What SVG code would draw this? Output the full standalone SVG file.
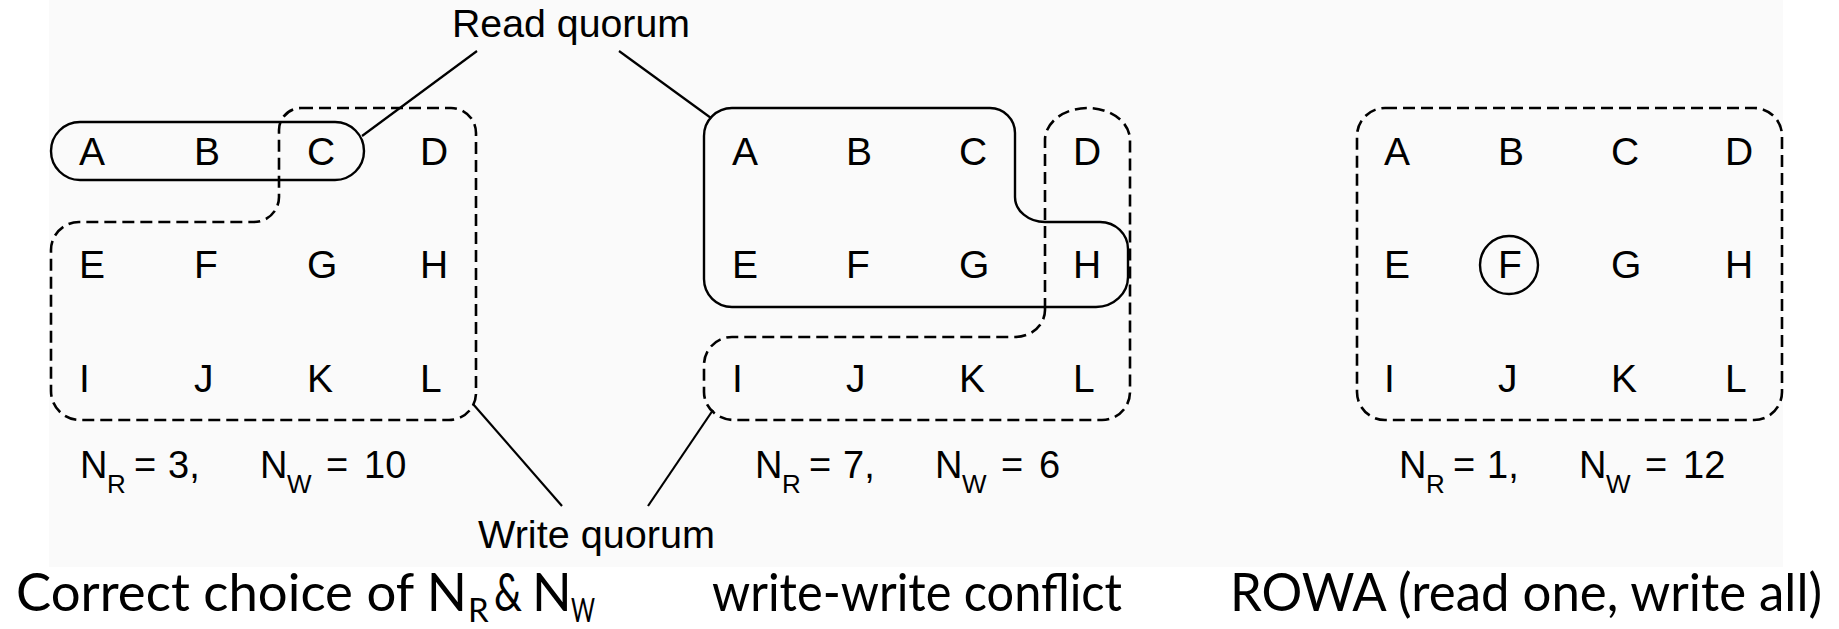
<svg xmlns="http://www.w3.org/2000/svg" width="1839" height="629" viewBox="0 0 1839 629">
  <style>
    .lt { font-family: "Liberation Sans", Arial, sans-serif; font-size: 39px; fill: #000; }
    .eq { font-family: "Liberation Sans", Arial, sans-serif; font-size: 38px; fill: #000; }
    .sb { font-size: 26px; }
    .lbl { font-family: "Liberation Sans", Arial, sans-serif; font-size: 38px; fill: #000; }
    .cap { font-family: Lato, "Open Sans", sans-serif; font-size: 52px; fill: #000; }
    .capsub { font-size: 33px; }
    .solid { fill: none; stroke: #000; stroke-width: 2.4; }
    .dash { fill: none; stroke: #000; stroke-width: 2.6; stroke-dasharray: 12 6; }
    .lead { fill: none; stroke: #000; stroke-width: 2.2; }
  </style>

  <rect width="1839" height="629" fill="#ffffff"/>
  <rect x="49" y="0" width="1734" height="567" fill="#fafafa"/>

  <!-- Panel 1: N_R = 3, N_W = 10 -->
  <g id="panel-correct">
    <rect class="solid" x="51" y="122" width="313" height="58" rx="29"/>
    <path class="dash" d="M 301,108 H 451 A 25 25 0 0 1 476,133 V 393 A 27 27 0 0 1 449,420 H 80 A 29 29 0 0 1 51,391 V 250 A 28 28 0 0 1 79,222 H 254 A 25 25 0 0 0 279,197 V 130 A 22 22 0 0 1 301,108 Z"/>
    <g class="lt">
      <text x="79" y="165">A</text><text x="194" y="165">B</text><text x="307" y="165">C</text><text x="420" y="165">D</text>
      <text x="79" y="278">E</text><text x="194" y="278">F</text><text x="307" y="278">G</text><text x="420" y="278">H</text>
      <text x="79" y="392">I</text><text x="194" y="392">J</text><text x="307" y="392">K</text><text x="420" y="392">L</text>
    </g>
    <text class="eq" y="478"><tspan x="80">N</tspan><tspan class="sb" x="107" y="493">R</tspan><tspan x="134" y="478">=</tspan><tspan x="168">3,</tspan><tspan x="260">N</tspan><tspan class="sb" x="287" y="493">W</tspan><tspan x="326" y="478">=</tspan><tspan x="364">10</tspan></text>
  </g>

  <!-- Panel 2: N_R = 7, N_W = 6 -->
  <g id="panel-conflict">
    <path class="solid" d="M 732,108 H 990 A 25 25 0 0 1 1015,133 V 197 A 30 25 0 0 0 1045,222 H 1100 A 28 27 0 0 1 1128,249 V 277 A 32 30 0 0 1 1096,307 H 732 A 28 28 0 0 1 704,279 V 136 A 28 28 0 0 1 732,108 Z"/>
    <path class="dash" d="M 1045,310 V 140 A 42.5 32 0 0 1 1130,140 V 392 A 28 28 0 0 1 1102,420 H 734 A 30 28 0 0 1 704,392 V 365 A 28 28 0 0 1 732,337 H 1015 A 30 27 0 0 0 1045,310 Z"/>
    <g class="lt">
      <text x="732" y="165">A</text><text x="846" y="165">B</text><text x="959" y="165">C</text><text x="1073" y="165">D</text>
      <text x="732" y="278">E</text><text x="846" y="278">F</text><text x="959" y="278">G</text><text x="1073" y="278">H</text>
      <text x="732" y="392">I</text><text x="846" y="392">J</text><text x="959" y="392">K</text><text x="1073" y="392">L</text>
    </g>
    <text class="eq" y="478"><tspan x="755">N</tspan><tspan class="sb" x="782" y="493">R</tspan><tspan x="809" y="478">=</tspan><tspan x="843">7,</tspan><tspan x="935">N</tspan><tspan class="sb" x="962" y="493">W</tspan><tspan x="1001" y="478">=</tspan><tspan x="1039">6</tspan></text>
  </g>

  <!-- Panel 3: N_R = 1, N_W = 12 -->
  <g id="panel-rowa">
    <rect class="dash" x="1357" y="108" width="425" height="312" rx="28"/>
    <circle class="solid" cx="1509" cy="265" r="29"/>
    <g class="lt">
      <text x="1384" y="165">A</text><text x="1498" y="165">B</text><text x="1611" y="165">C</text><text x="1725" y="165">D</text>
      <text x="1384" y="278">E</text><text x="1498" y="278">F</text><text x="1611" y="278">G</text><text x="1725" y="278">H</text>
      <text x="1384" y="392">I</text><text x="1498" y="392">J</text><text x="1611" y="392">K</text><text x="1725" y="392">L</text>
    </g>
    <text class="eq" y="478"><tspan x="1399">N</tspan><tspan class="sb" x="1426" y="493">R</tspan><tspan x="1453" y="478">=</tspan><tspan x="1487">1,</tspan><tspan x="1579">N</tspan><tspan class="sb" x="1606" y="493">W</tspan><tspan x="1645" y="478">=</tspan><tspan x="1683">12</tspan></text>
  </g>

  <!-- Callout labels -->
  <g id="label-read">
    <text class="lbl" x="452" y="37" textLength="238" lengthAdjust="spacingAndGlyphs">Read quorum</text>
  </g>
  <g id="label-write">
    <text class="lbl" x="478" y="548" textLength="237" lengthAdjust="spacingAndGlyphs">Write quorum</text>
  </g>

  <!-- Leader lines from labels to quorum outlines -->
  <g id="connectors">
    <line class="lead" x1="477" y1="51" x2="362" y2="136"/>
    <line class="lead" x1="619" y1="51" x2="711" y2="118"/>
    <line class="lead" x1="473" y1="404" x2="562" y2="506"/>
    <line class="lead" x1="713" y1="410" x2="648" y2="506"/>
  </g>

  <!-- Captions -->
  <g id="captions">
    <text class="cap" y="611"><tspan x="16" textLength="451" lengthAdjust="spacingAndGlyphs">Correct choice of N</tspan><tspan class="capsub" x="468" y="622">R</tspan><tspan x="494" y="611" textLength="28" lengthAdjust="spacingAndGlyphs">&amp;</tspan><tspan x="532">N</tspan><tspan class="capsub" x="571" y="622" textLength="24" lengthAdjust="spacingAndGlyphs">W</tspan></text>
    <text class="cap" x="712" y="611" textLength="410" lengthAdjust="spacingAndGlyphs">write-write conflict</text>
    <text class="cap" x="1230" y="611" textLength="592" lengthAdjust="spacingAndGlyphs">ROWA (read one, write all)</text>
  </g>
</svg>
